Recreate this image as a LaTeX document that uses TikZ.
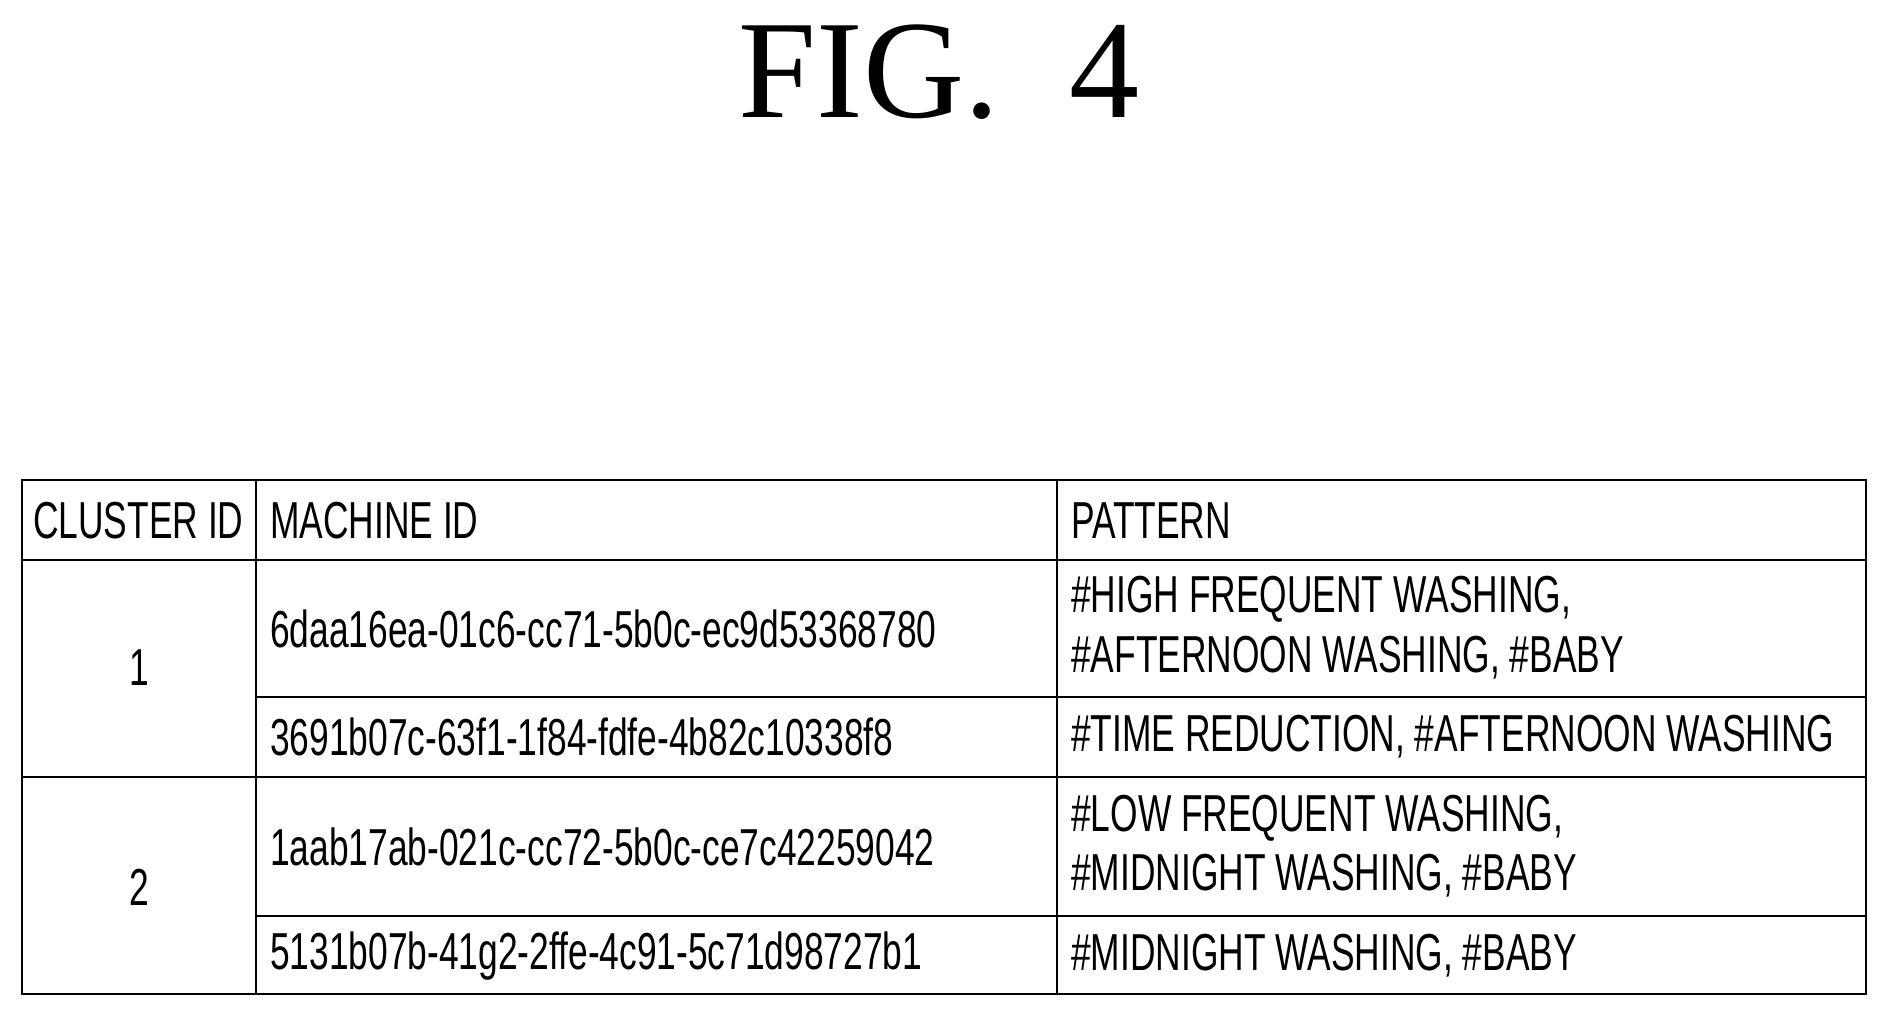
\documentclass[tikz,border=0pt]{standalone}
\usepackage{fontspec}
\setmainfont{Liberation Serif}
\newfontfamily\tf{Liberation Sans}
\newcommand\tx[1]{\scalebox{0.68}[1]{#1}}
\begin{document}
\begin{tikzpicture}[x=1pt,y=-1pt,
  cell/.style={anchor=west,inner sep=0pt,font=\tf\fontsize{52}{60}\selectfont},
  ctr/.style={anchor=center,inner sep=0pt,font=\tf\fontsize{52}{60}\selectfont},
  grid/.style={line width=2.2pt}]
\useasboundingbox (0,0) rectangle (1889,1017);
\node[inner sep=0pt,font=\fontsize{140}{150}\selectfont] (title) at (939,72) {FIG.\ \ 4};
\draw[grid] (22,480) rectangle (1866,994);
\draw[grid] (22,560) -- (1866,560);
\draw[grid] (22,777) -- (1866,777);
\draw[grid] (256,697) -- (1866,697);
\draw[grid] (256,916) -- (1866,916);
\draw[grid] (256,480) -- (256,994);
\draw[grid] (1057,480) -- (1057,994);
\node[cell] (h1) at (33,521) {\tx{CLUSTER ID}};
\node[cell] (h2) at (270,521) {\tx{MACHINE ID}};
\node[cell] (h3) at (1071,521) {\tx{PATTERN}};
\node[ctr] (c1) at (139,668) {\tx{1}};
\node[ctr] (c2) at (139,887) {\tx{2}};
\node[cell] (m1) at (270,629) {\tx{6daa16ea-01c6-cc71-5b0c-ec9d53368780}};
\node[cell] (m2) at (270,737) {\tx{3691b07c-63f1-1f84-fdfe-4b82c10338f8}};
\node[cell] (m3) at (270,847) {\tx{1aab17ab-021c-cc72-5b0c-ce7c42259042}};
\node[cell] (m4) at (270,956) {\tx{5131b07b-41g2-2ffe-4c91-5c71d98727b1}};
\node[cell] (p1a) at (1071,599) {\tx{\#HIGH FREQUENT WASHING,}};
\node[cell] (p1b) at (1071,658) {\tx{\#AFTERNOON WASHING, \#BABY}};
\node[cell] (p2) at (1071,737) {\tx{\#TIME REDUCTION, \#AFTERNOON WASHING}};
\node[cell] (p3a) at (1071,818) {\tx{\#LOW FREQUENT WASHING,}};
\node[cell] (p3b) at (1071,876) {\tx{\#MIDNIGHT WASHING, \#BABY}};
\node[cell] (p4) at (1071,956) {\tx{\#MIDNIGHT WASHING, \#BABY}};
\end{tikzpicture}
\end{document}
